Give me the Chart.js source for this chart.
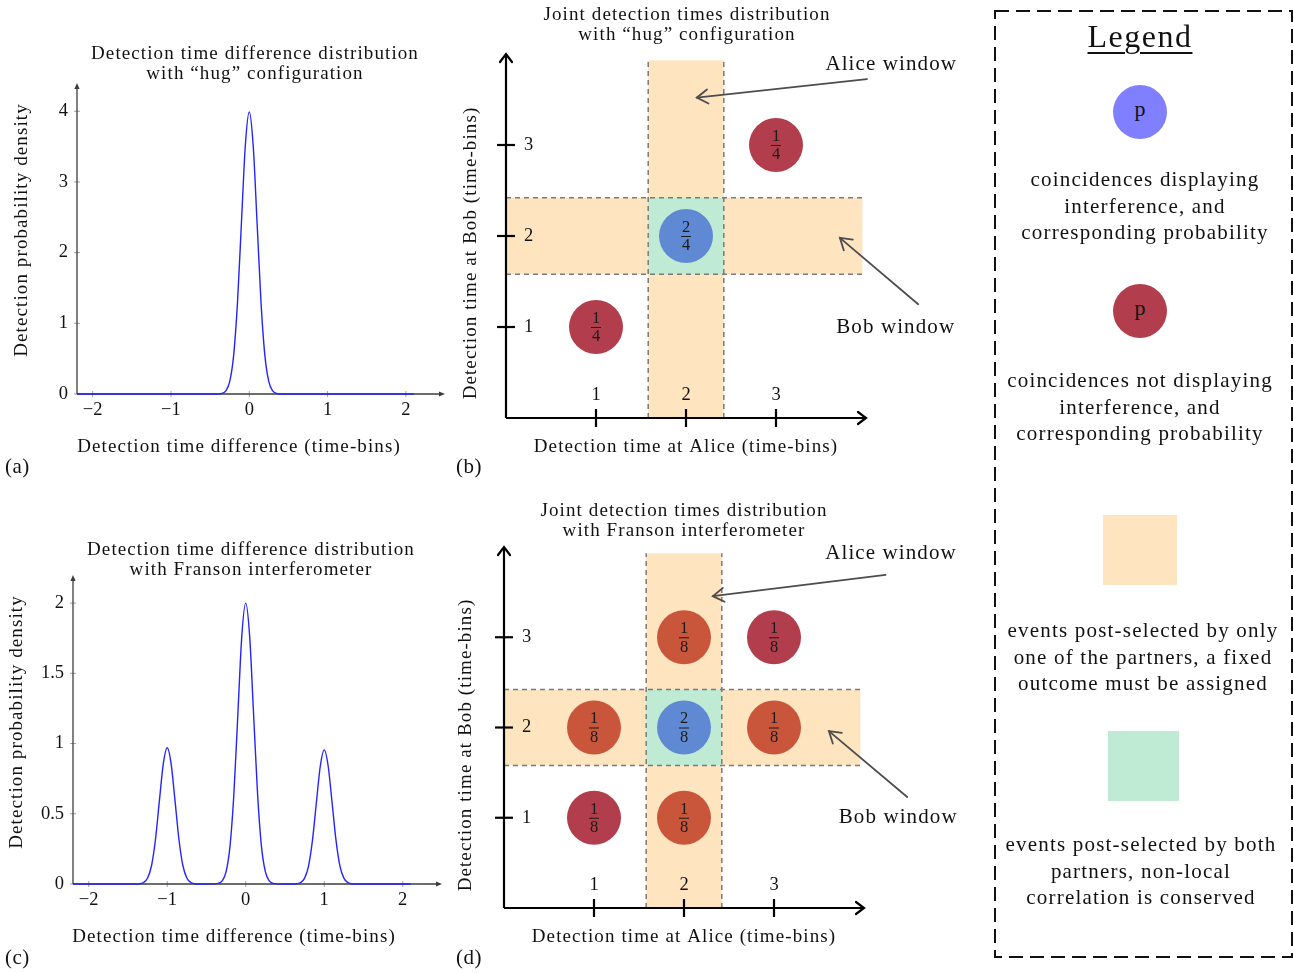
<!DOCTYPE html>
<html>
<head>
<meta charset="utf-8">
<script src="https://cdn.jsdelivr.net/npm/chart.js@4.4.1/dist/chart.umd.min.js"></script>
<style>
  html, body { margin: 0; padding: 0; background: #fff; }
  body { width: 1294px; height: 973px; position: relative; overflow: hidden;
         font-family: "Liberation Serif", "Times New Roman", serif; color: #111; }
  canvas.panel { position: absolute; left: 0; top: 0; }
  #frame { position: absolute; left: 0; top: 0; }
  .lg-title { position: absolute; left: 995px; width: 290px; top: 16px; text-align: center;
              font-size: 32px; letter-spacing: 1.5px; line-height: 40px; }
  .lg-title span { text-decoration: underline; text-decoration-thickness: 1.5px; text-underline-offset: 5px; }
  .lg-dot { position: absolute; width: 54px; height: 54px; border-radius: 50%; text-align: center;
            line-height: 48px; font-size: 22px; color: #111; }
  .lg-box { position: absolute; }
  .lg-text { position: absolute; width: 300px; text-align: center; font-size: 21px;
             letter-spacing: 1.2px; line-height: 26.5px; }
</style>
</head>
<body>
<canvas class="panel" id="chartA" width="1294" height="973"></canvas>
<canvas class="panel" id="chartB" width="1294" height="973"></canvas>
<canvas class="panel" id="chartC" width="1294" height="973"></canvas>
<canvas class="panel" id="chartD" width="1294" height="973"></canvas>

<!-- legend column -->
<svg id="frame" width="1294" height="973">
  <rect x="995" y="11" width="297" height="946" fill="none" stroke="#111" stroke-width="2" stroke-dasharray="14 7"/>
</svg>
<div class="lg-title"><span>Legend</span></div>
<div class="lg-dot" style="left:1113px; top:85px; background:#7f7fff;">p</div>
<div class="lg-text" style="left:995px; top:166px;">coincidences displaying<br>interference, and<br>corresponding probability</div>
<div class="lg-dot" style="left:1113px; top:284px; background:#b13d4d;">p</div>
<div class="lg-text" style="left:990px; top:367px;">coincidences not displaying<br>interference, and<br>corresponding probability</div>
<div class="lg-box" style="left:1103px; top:515px; width:74px; height:70px; background:#ffe4c0;"></div>
<div class="lg-text" style="left:993px; top:617px;">events post-selected by only<br>one of the partners, a fixed<br>outcome must be assigned</div>
<div class="lg-box" style="left:1108px; top:731px; width:71px; height:70px; background:#bfebd4;"></div>
<div class="lg-text" style="left:991px; top:831px;">events post-selected by both<br>partners, non-local<br>correlation is conserved</div>

<script>
/* DATA */
/* (a) detection time difference, "hug" configuration */
const hugX = [-2.2, -0.5, -0.4, -0.35, -0.3, -0.25, -0.2, -0.15, -0.1, -0.05, 0,
              0.05, 0.1, 0.15, 0.2, 0.25, 0.3, 0.35, 0.4, 0.5, 2.1];
const hugY = [0, 0, 0.001, 0.009, 0.044, 0.175, 0.54, 1.3, 2.42, 3.52, 3.99,
              3.52, 2.42, 1.3, 0.54, 0.175, 0.044, 0.009, 0.001, 0, 0];

/* (c) detection time difference, Franson interferometer */
const fransonX = [-2.2, -1.5, -1.4, -1.35, -1.3, -1.25, -1.2, -1.15, -1.1, -1.05,
                  -1, -0.95, -0.9, -0.85, -0.8, -0.75, -0.7, -0.65, -0.6, -0.5,
                  -0.4, -0.35, -0.3, -0.25, -0.2, -0.15, -0.1, -0.05,
                  0, 0.05, 0.1, 0.15, 0.2, 0.25, 0.3, 0.35, 0.4, 0.5,
                  0.6, 0.65, 0.7, 0.75, 0.8, 0.85, 0.9, 0.95,
                  1, 1.05, 1.1, 1.15, 1.2, 1.25, 1.3, 1.35, 1.4, 1.5, 2.1];
const fransonY = [0, 0, 0.0003, 0.002, 0.011, 0.043, 0.13, 0.315, 0.59, 0.855,
                  0.97, 0.855, 0.59, 0.315, 0.13, 0.043, 0.011, 0.002, 0.0003, 0,
                  0.0007, 0.004, 0.022, 0.088, 0.27, 0.65, 1.21, 1.765,
                  2.0, 1.765, 1.21, 0.65, 0.27, 0.088, 0.022, 0.004, 0.0007, 0,
                  0.0003, 0.002, 0.011, 0.042, 0.128, 0.31, 0.58, 0.84,
                  0.955, 0.84, 0.58, 0.31, 0.128, 0.042, 0.011, 0.002, 0.0003, 0, 0];

const diffTicksX = [-2, -1, 0, 1, 2];
const hugTicksY = [0, 1, 2, 3, 4];
const fransonTicksY = [0, 0.5, 1, 1.5, 2];

/* (b) joint detection times, "hug" configuration */
const hugCellX = [1, 2, 3];
const hugCellY = [1, 2, 3];
const hugProb  = ['1/4', '2/4', '1/4'];
const hugKind  = ['plain', 'interf', 'plain'];

/* (d) joint detection times, Franson interferometer */
const fransonCellX = [1, 2, 1, 2, 3, 2, 3];
const fransonCellY = [1, 1, 2, 2, 2, 3, 3];
const fransonProb  = ['1/8', '1/8', '1/8', '2/8', '1/8', '1/8', '1/8'];
const fransonKind  = ['plain', 'single', 'single', 'interf', 'single', 'single', 'plain'];

const gridTicks = [1, 2, 3];
/* post-selection windows, in time-bins */
const aliceWindow = [1.58, 2.42];
const bobWindow = [1.58, 2.42];

/* STYLE */
const FONT = '"Liberation Serif", "Times New Roman", serif';
const kindColor = { interf: '#5f8ad3', plain: '#b13d4d', single: '#c9553a' };

/* write a string on the canvas */
function put(ctx, s, x, y, size, opt) {
  opt = opt || {};
  ctx.save();
  ctx.translate(x, y);
  if (opt.rot) ctx.rotate(opt.rot);
  ctx.font = size + 'px ' + FONT;
  if ('letterSpacing' in ctx) ctx.letterSpacing = (opt.ls || 0) + 'px';
  ctx.textAlign = opt.align || 'center';
  ctx.textBaseline = 'middle';
  ctx.fillStyle = opt.color || '#111';
  ctx.fillText(s, 0, 0);
  ctx.restore();
}

function seg(ctx, x1, y1, x2, y2) {
  ctx.beginPath();
  ctx.moveTo(x1, y1);
  ctx.lineTo(x2, y2);
  ctx.stroke();
}

/* arrow head with its tip at x,y */
function head(ctx, x, y, ang, len, half, filled) {
  ctx.save();
  ctx.translate(x, y);
  ctx.rotate(ang);
  ctx.beginPath();
  ctx.moveTo(-len, -half);
  ctx.lineTo(0, 0);
  ctx.lineTo(-len, half);
  if (filled) { ctx.closePath(); ctx.fill(); } else ctx.stroke();
  ctx.restore();
}

const minus = v => (v < 0 ? '\u2212' + Math.abs(v) : String(v));

/* pgfplots-like axes, windows, labels */
const pgf = {
  id: 'pgf',
  beforeDatasetsDraw(chart, args, o) {
    const ctx = chart.ctx, sx = chart.scales.x, sy = chart.scales.y;
    const X = v => sx.getPixelForValue(v), Y = v => sy.getPixelForValue(v);
    const area = chart.chartArea;
    ctx.save();

    /* post-selection windows */
    if (o.windows) {
      const w = o.windows;
      ctx.fillStyle = '#ffe4c0';
      ctx.fillRect(X(w.alice[0]), Y(w.aliceTop), X(w.alice[1]) - X(w.alice[0]), Y(0) - Y(w.aliceTop));
      ctx.fillRect(X(0), Y(w.bob[1]), X(w.bobRight) - X(0), Y(w.bob[0]) - Y(w.bob[1]));
      ctx.fillStyle = '#bfebd4';
      ctx.fillRect(X(w.alice[0]), Y(w.bob[1]), X(w.alice[1]) - X(w.alice[0]), Y(w.bob[0]) - Y(w.bob[1]));
      ctx.strokeStyle = '#7a7a7a';
      ctx.lineWidth = 1.5;
      ctx.setLineDash([5, 4]);
      w.alice.forEach(v => seg(ctx, X(v), Y(0), X(v), Y(w.aliceTop)));
      w.bob.forEach(v => seg(ctx, X(0), Y(v), X(w.bobRight), Y(v)));
      ctx.setLineDash([]);
    }

    /* axes */
    const a = o.axis;
    ctx.lineWidth = a.tickWidth;
    ctx.strokeStyle = a.tickColor;
    o.xTicks.forEach(v => seg(ctx, X(v), area.bottom - a.tick, X(v), area.bottom + a.tick));
    o.yTicks.forEach(v => seg(ctx, area.left - a.tick, Y(v), area.left + a.tick, Y(v)));

    ctx.strokeStyle = a.color;
    ctx.fillStyle = a.color;
    ctx.lineWidth = a.width;
    seg(ctx, area.left, area.bottom, area.right - (a.open ? 1 : 3), area.bottom);
    seg(ctx, area.left, area.bottom, area.left, area.top + (a.open ? 1 : 3));
    ctx.lineCap = 'round';
    head(ctx, area.right, area.bottom, 0, a.open ? 8 : 6, a.open ? 6 : 2.6, !a.open);
    head(ctx, area.left, area.top, -Math.PI / 2, a.open ? 8 : 6, a.open ? 6 : 2.6, !a.open);
    ctx.restore();

    o.xTicks.forEach(v => put(ctx, minus(v), X(v), area.bottom + a.xLabelDy, 18.5));
    o.yTicks.forEach(v => put(ctx, String(v), area.left + a.yLabelDx, Y(v), 18.5,
      { align: a.yLabelDx < 0 ? 'right' : 'left' }));
  },
  afterDatasetsDraw(chart, args, o) {
    const ctx = chart.ctx, sx = chart.scales.x, sy = chart.scales.y;
    const X = v => sx.getPixelForValue(v), Y = v => sy.getPixelForValue(v);

    /* fractions inside the coincidence discs */
    if (o.probs) {
      const meta = chart.getDatasetMeta(0);
      meta.data.forEach((pt, i) => {
        const [n, d] = o.probs[i].split('/');
        put(ctx, n, pt.x, pt.y - 8.5, 16.5, { color: '#1a1a1a' });
        put(ctx, d, pt.x, pt.y + 10, 16.5, { color: '#1a1a1a' });
        ctx.save();
        ctx.strokeStyle = '#1a1a1a';
        ctx.lineWidth = 1;
        seg(ctx, pt.x - 5, pt.y + 0.5, pt.x + 5, pt.y + 0.5);
        ctx.restore();
      });
    }

    /* window annotations */
    (o.notes || []).forEach(nt => {
      put(ctx, nt.text, X(nt.at[0]), Y(nt.at[1]), 21, { ls: 1.1 });
      const x1 = X(nt.from[0]), y1 = Y(nt.from[1]), x2 = X(nt.to[0]), y2 = Y(nt.to[1]);
      ctx.save();
      ctx.strokeStyle = '#4d4d4d';
      ctx.lineWidth = 1.8;
      ctx.lineCap = 'round';
      seg(ctx, x1, y1, x2, y2);
      head(ctx, x2, y2, Math.atan2(y2 - y1, x2 - x1), 11, 7, false);
      ctx.restore();
    });

    /* titles and panel tag */
    o.title.forEach((s, i) => put(ctx, s, o.titleAt[0], o.titleAt[1] + i * 20.5, 19, { ls: 1.1 }));
    put(ctx, o.xTitle, o.xTitleAt[0], o.xTitleAt[1], 19, { ls: 1.1 });
    put(ctx, o.yTitle, o.yTitleAt[0], o.yTitleAt[1], 19, { ls: 1.1, rot: -Math.PI / 2 });
    put(ctx, o.tag, o.tagAt[0], o.tagAt[1], 21, { align: 'left', ls: 0.5 });
  }
};

const plotAxis = { color: '#3c3c3c', width: 1.3, open: false, tick: 3, tickColor: '#a0a0a0', tickWidth: 1,
                   xLabelDy: 16, yLabelDx: -9 };
const gridAxis = { color: '#000', width: 2.2, open: true, tick: 9, tickColor: '#000', tickWidth: 2.2,
                   xLabelDy: -23, yLabelDx: 18 };

/* chart area given as page box: left, top, right, bottom */
function pad(l, t, r, b) {
  return { left: l, top: t, right: 1294 - r, bottom: 973 - b };
}

function baseOptions(box, xr, yr, pg) {
  return {
    responsive: false,
    animation: false,
    events: [],
    layout: { padding: box },
    scales: {
      x: { type: 'linear', min: xr[0], max: xr[1], display: false },
      y: { type: 'linear', min: yr[0], max: yr[1], display: false }
    },
    plugins: { legend: { display: false }, tooltip: { enabled: false }, pgf: pg }
  };
}

function curveChart(id, xs, ys, box, yMax, yTicks, pg) {
  return new Chart(document.getElementById(id), {
    type: 'line',
    data: {
      datasets: [{
        data: xs.map((x, i) => ({ x: x, y: ys[i] })),
        borderColor: '#2424ff',
        borderWidth: 1.4,
        pointRadius: 0,
        cubicInterpolationMode: 'monotone',
        fill: false,
        clip: 10
      }]
    },
    options: baseOptions(box, [-2.2, 2.5], [0, yMax],
      Object.assign({ axis: plotAxis, xTicks: diffTicksX, yTicks: yTicks }, pg)),
    plugins: [pgf]
  });
}

function gridChart(id, xs, ys, probs, kinds, box, pg) {
  return new Chart(document.getElementById(id), {
    type: 'scatter',
    data: {
      datasets: [{
        data: xs.map((x, i) => ({ x: x, y: ys[i] })),
        pointRadius: 27,
        pointHoverRadius: 27,
        pointBorderWidth: 0,
        pointBackgroundColor: kinds.map(k => kindColor[k])
      }]
    },
    options: baseOptions(box, [0, 4], [0, 4],
      Object.assign({ axis: gridAxis, xTicks: gridTicks, yTicks: gridTicks, probs: probs,
        windows: { alice: aliceWindow, bob: bobWindow, aliceTop: 3.93, bobRight: 3.96 } }, pg)),
    plugins: [pgf]
  });
}

curveChart('chartA', hugX, hugY, pad(77, 83, 445, 394), 4.4, hugTicksY, {
  title: ['Detection time difference distribution', 'with \u201chug\u201d configuration'],
  titleAt: [255, 54],
  xTitle: 'Detection time difference (time-bins)', xTitleAt: [239, 447],
  yTitle: 'Detection probability density', yTitleAt: [22, 230],
  tag: '(a)', tagAt: [5, 467]
});

curveChart('chartC', fransonX, fransonY, pad(73, 575, 442, 884), 2.2, fransonTicksY, {
  title: ['Detection time difference distribution', 'with Franson interferometer'],
  titleAt: [251, 550],
  xTitle: 'Detection time difference (time-bins)', xTitleAt: [234, 937],
  yTitle: 'Detection probability density', yTitleAt: [17, 722],
  tag: '(c)', tagAt: [5, 958]
});

gridChart('chartB', hugCellX, hugCellY, hugProb, hugKind, pad(506, 54, 866, 418), {
  title: ['Joint detection times distribution', 'with \u201chug\u201d configuration'],
  titleAt: [687, 15],
  xTitle: 'Detection time at Alice (time-bins)', xTitleAt: [686, 447],
  yTitle: 'Detection time at Bob (time-bins)', yTitleAt: [471, 253],
  tag: '(b)', tagAt: [456, 467],
  notes: [
    { text: 'Alice window', at: [4.28, 3.89], from: [4.01, 3.725], to: [2.12, 3.52] },
    { text: 'Bob window', at: [4.33, 1.0], from: [4.58, 1.25], to: [3.71, 1.98] }
  ]
});

gridChart('chartD', fransonCellX, fransonCellY, fransonProb, fransonKind, pad(504, 547, 864, 908), {
  title: ['Joint detection times distribution', 'with Franson interferometer'],
  titleAt: [684, 511],
  xTitle: 'Detection time at Alice (time-bins)', xTitleAt: [684, 937],
  yTitle: 'Detection time at Bob (time-bins)', yTitleAt: [466, 745],
  tag: '(d)', tagAt: [456, 958],
  notes: [
    { text: 'Alice window', at: [4.3, 3.93], from: [4.24, 3.69], to: [2.32, 3.455] },
    { text: 'Bob window', at: [4.38, 1.0], from: [4.48, 1.23], to: [3.61, 1.96] }
  ]
});
</script>
</body>
</html>
